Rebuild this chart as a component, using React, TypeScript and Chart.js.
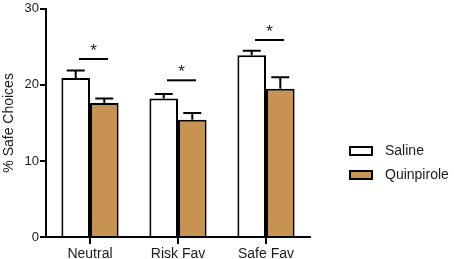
import React, { useEffect, useRef } from "react";
import { Chart, registerables } from "chart.js";

Chart.register(...registerables);

const categories = ["Neutral", "Risk Fav", "Safe Fav"];
const salineValues = [20.9, 18.2, 23.9];
const salineSem = [1.0, 0.6, 0.6];
const quinpiroleValues = [17.6, 15.4, 19.5];
const quinpiroleSem = [0.6, 0.9, 1.5];
const sigLevels = [23.4, 20.6, 25.9];
const yTicks = [0, 10, 20, 30];
const seriesNames = ["Saline", "Quinpirole"];

const TAN = "#C69352";
const TEXT = "#1a1a24";
const FONT = "'Liberation Sans', Arial, sans-serif";

export default function App() {
  const ref = useRef<HTMLCanvasElement | null>(null);

  useEffect(() => {
    if (!ref.current) return;
    const errs = [salineSem, quinpiroleSem];

    const errorBars = {
      id: "errorBars",
      afterDatasetsDraw(chart: any) {
        const ctx = chart.ctx;
        const yScale = chart.scales.y;
        ctx.save();
        ctx.strokeStyle = "#000";
        ctx.lineWidth = 2;
        chart.data.datasets.forEach((ds: any, di: number) => {
          const meta = chart.getDatasetMeta(di);
          meta.data.forEach((el: any, i: number) => {
            const v = ds.data[i];
            const top = yScale.getPixelForValue(v + errs[di][i]);
            ctx.beginPath();
            ctx.moveTo(el.x, el.y);
            ctx.lineTo(el.x, top);
            ctx.moveTo(el.x - 9, top);
            ctx.lineTo(el.x + 9, top);
            ctx.stroke();
          });
        });
        const xScale = chart.scales.x;
        ctx.fillStyle = TEXT;
        ctx.font = `17px ${FONT}`;
        ctx.textAlign = "center";
        ctx.textBaseline = "alphabetic";
        sigLevels.forEach((lvl, i) => {
          const cx = xScale.getPixelForValue(i);
          const y = yScale.getPixelForValue(lvl);
          ctx.beginPath();
          ctx.moveTo(cx - 11, y);
          ctx.lineTo(cx + 18, y);
          ctx.stroke();
          ctx.fillText("*", cx + 3.5, y - 3);
        });
        ctx.restore();
      },
    };

    const customLegend = {
      id: "customLegend",
      afterDraw(chart: any) {
        const ctx = chart.ctx;
        ctx.save();
        const fills = ["#ffffff", TAN];
        seriesNames.forEach((name, i) => {
          const cy = 151 + i * 24;
          ctx.fillStyle = fills[i];
          ctx.strokeStyle = "#000";
          ctx.lineWidth = 2;
          ctx.beginPath();
          ctx.rect(350, cy - 4, 22, 8);
          ctx.fill();
          ctx.stroke();
          ctx.fillStyle = TEXT;
          ctx.font = `14px ${FONT}`;
          ctx.textAlign = "left";
          ctx.textBaseline = "middle";
          ctx.fillText(name, 385, cy);
        });
        ctx.restore();
      },
    };

    const chart = new Chart(ref.current, {
      type: "bar",
      data: {
        labels: categories,
        datasets: [
          {
            label: seriesNames[0],
            data: salineValues,
            backgroundColor: "#ffffff",
            borderColor: "#000000",
            borderWidth: 2,
            categoryPercentage: 0.65,
            barPercentage: 1,
          },
          {
            label: seriesNames[1],
            data: quinpiroleValues,
            backgroundColor: TAN,
            borderColor: "#000000",
            borderWidth: 2,
            categoryPercentage: 0.65,
            barPercentage: 1,
          },
        ],
      },
      options: {
        responsive: true,
        maintainAspectRatio: false,
        animation: false,
        layout: { padding: { top: 7, right: 144, left: 0, bottom: 0 } },
        plugins: {
          legend: { display: false },
          tooltip: { enabled: false },
        },
        scales: {
          x: {
            afterFit: (s: any) => {
              s.height = 22;
            },
            grid: {
              offset: false,
              drawOnChartArea: false,
              drawTicks: true,
              tickLength: 7,
              color: "#000",
              lineWidth: 2,
            },
            border: { display: true, color: "#000", width: 2 },
            ticks: {
              color: TEXT,
              font: { family: FONT, size: 14 },
              padding: 2,
            },
          },
          y: {
            min: 0,
            max: 30,
            afterFit: (s: any) => {
              s.width = 46;
            },
            afterBuildTicks: (s: any) => {
              s.ticks = yTicks.map((v) => ({ value: v }));
            },
            grid: {
              drawOnChartArea: false,
              drawTicks: true,
              tickLength: 6,
              color: "#000",
              lineWidth: 2,
            },
            border: { display: true, color: "#000", width: 2 },
            ticks: {
              color: TEXT,
              font: { family: FONT, size: 13 },
              padding: 1,
            },
            title: {
              display: true,
              text: "% Safe Choices",
              color: TEXT,
              font: { family: FONT, size: 14 },
              padding: { top: 1, bottom: 0 },
            },
          },
        },
      },
      plugins: [errorBars, customLegend],
    });
    return () => chart.destroy();
  }, []);

  return (
    <div style={{ position: "absolute", left: 0, top: 0, width: 454, height: 259, background: "#fff" }}>
      <canvas ref={ref} />
    </div>
  );
}
